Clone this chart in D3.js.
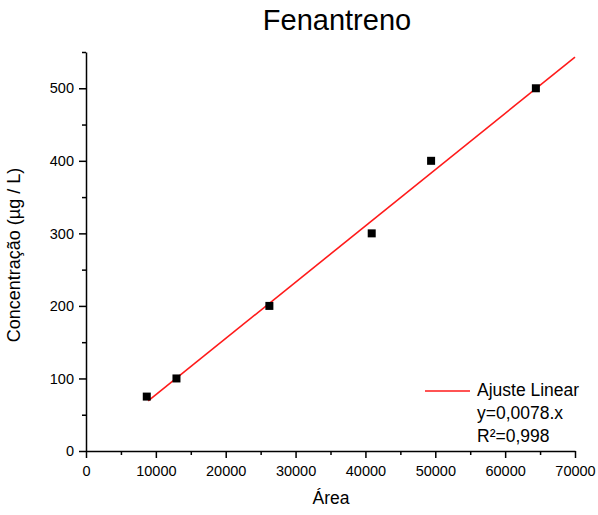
<!DOCTYPE html>
<html>
<head>
<meta charset="utf-8">
<script src="https://cdn.jsdelivr.net/npm/d3@7"></script>
<style>
  body { margin: 0; background: #fff; }
  text { font-family: "Liberation Sans", Arial, sans-serif; fill: #000; }
</style>
</head>
<body>
<svg id="chart"></svg>
<script>
const areas = [8700, 12950, 26250, 40900, 49400, 64400];
const concs = [75, 100, 200, 300, 400, 500];
const fitX = [8900, 70000];
const fitY = [69, 543];
const legendLines = ["Ajuste Linear", "y=0,0078.x", "R\u00b2=0,998"];

const width = 598, height = 515;
const margin = { top: 52, right: 23, bottom: 64, left: 86 };

const svg = d3.select("#chart")
    .attr("width", width)
    .attr("height", height);

const x = d3.scaleLinear()
    .domain([0, 70000])
    .range([margin.left, width - margin.right]);

const y = d3.scaleLinear()
    .domain([0, 550])
    .range([height - margin.bottom, margin.top]);

// minor ticks first
svg.append("g")
    .attr("transform", `translate(0,${y(0)})`)
    .call(d3.axisBottom(x).tickValues(d3.range(5000, 70000, 10000)).tickSize(4).tickFormat(""))
    .call(g => g.select(".domain").remove())
    .call(g => g.selectAll("line").attr("stroke-width", 1.5));

svg.append("g")
    .attr("transform", `translate(${x(0)},0)`)
    .call(d3.axisLeft(y).tickValues(d3.range(50, 600, 100)).tickSize(4).tickFormat(""))
    .call(g => g.select(".domain").remove())
    .call(g => g.selectAll("line").attr("stroke-width", 1.5));

const xAxis = svg.append("g")
    .attr("transform", `translate(0,${y(0)})`)
    .call(d3.axisBottom(x).tickValues(d3.range(0, 70001, 10000)).tickSize(7).tickSizeOuter(0).tickPadding(6).tickFormat(d3.format("d")));

const yAxis = svg.append("g")
    .attr("transform", `translate(${x(0)},0)`)
    .call(d3.axisLeft(y).tickValues(d3.range(0, 501, 100)).tickSize(7).tickSizeOuter(0).tickPadding(5));

[xAxis, yAxis].forEach(a => {
  a.select(".domain").attr("stroke-width", 1.5);
  a.selectAll("line").attr("stroke-width", 1.5);
  a.selectAll("text").style("font-family", "Liberation Sans, Arial, sans-serif").style("font-size", "14.5px").attr("fill", "#222");
});
xAxis.selectAll("text").attr("dy", "0.85em");

// fit line
svg.append("path")
    .datum(fitX.map((d, i) => [d, fitY[i]]))
    .attr("fill", "none")
    .attr("stroke", "#ff1a1a")
    .attr("stroke-width", 1.6)
    .attr("d", d3.line().x(d => x(d[0])).y(d => y(d[1])));

// data points
svg.selectAll(".pt")
    .data(areas.map((d, i) => [d, concs[i]]))
  .enter().append("rect")
    .attr("class", "pt")
    .attr("x", d => x(d[0]) - 4)
    .attr("y", d => y(d[1]) - 4)
    .attr("width", 8)
    .attr("height", 8)
    .attr("fill", "#000");

// title
svg.append("text")
    .attr("x", 337)
    .attr("y", 30)
    .attr("text-anchor", "middle")
    .style("font-size", "29px")
    .text("Fenantreno");

// axis labels
svg.append("text")
    .attr("x", 331)
    .attr("y", 504)
    .attr("text-anchor", "middle")
    .style("font-size", "17.5px")
    .attr("fill", "#222")
    .text("\u00c1rea");

svg.append("text")
    .attr("transform", "translate(20,255) rotate(-90)")
    .attr("text-anchor", "middle")
    .style("font-size", "18px")
    .attr("fill", "#222")
    .text("Concentra\u00e7\u00e3o (\u00b5g / L)");

// legend
const legend = svg.append("g").attr("transform", "translate(425,391)");
legend.append("line")
    .attr("x1", 0).attr("x2", 45)
    .attr("stroke", "#ff1a1a")
    .attr("stroke-width", 1.6);
legend.selectAll("text")
    .data(legendLines)
  .enter().append("text")
    .attr("x", 52)
    .attr("y", (d, i) => 5 + i * 23)
    .style("font-size", "17.5px")
    .attr("fill", "#222")
    .text(d => d);
</script>
</body>
</html>
